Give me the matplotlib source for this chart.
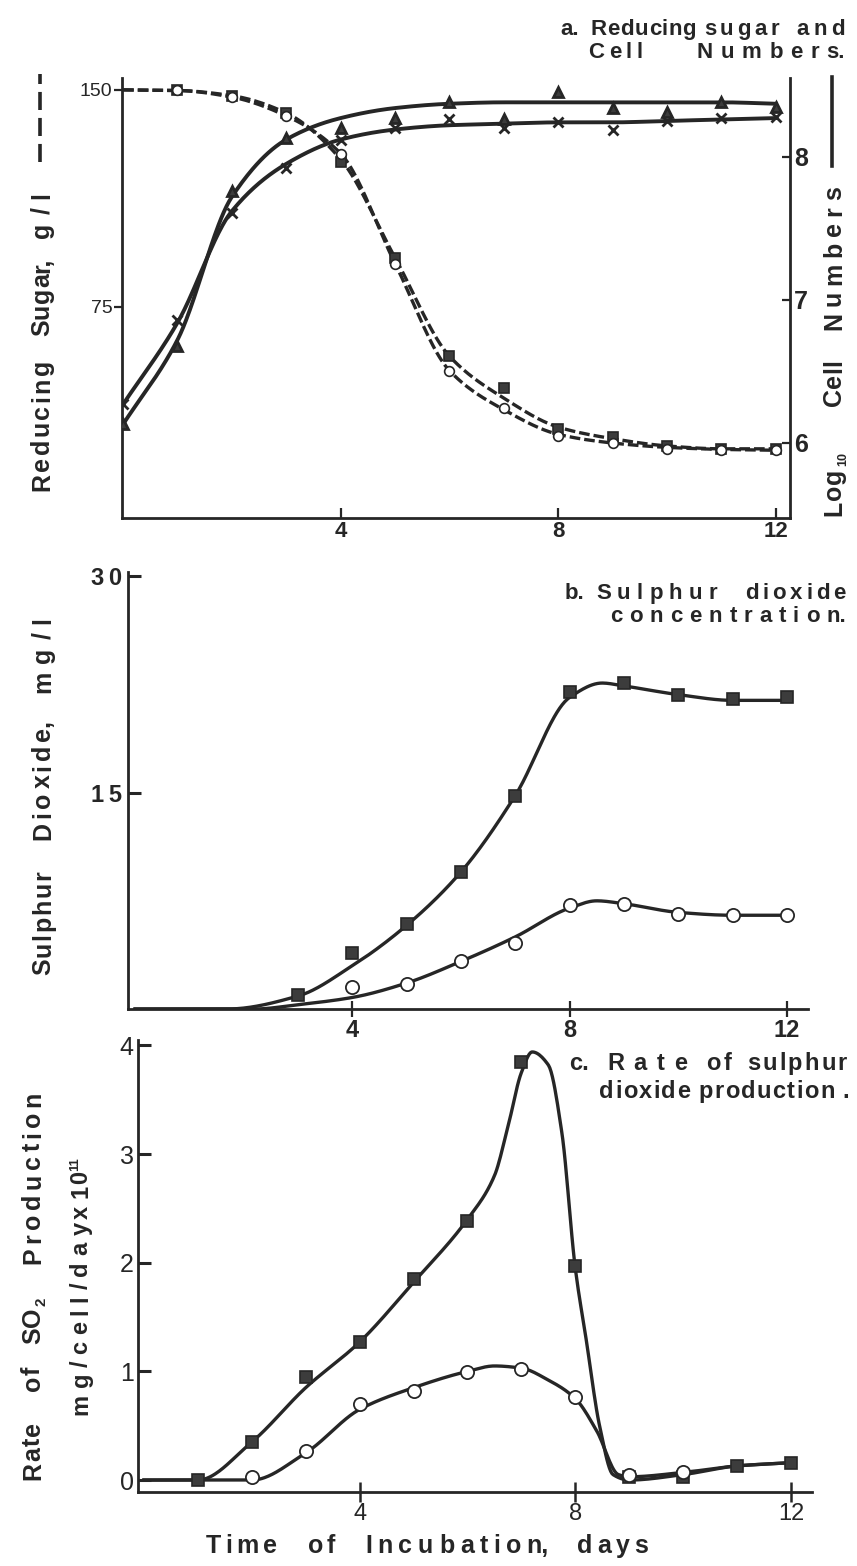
import numpy as np
import matplotlib
matplotlib.use("Agg")
import matplotlib.pyplot as plt
from matplotlib.lines import Line2D

# ---------------- data ----------------
days = list(range(13))

# panel a: reducing sugar (g/l) markers and the dashed hand-drawn curves
sugar_sq = [150, 150, 148, 142, 125, 92, 58, 47, 33, 30, 27, 26, 26]
sugar_circ = [150, 150, 147.5, 141, 128, 90, 53, 40, 30.5, 28, 26, 25.5, 25.5]
sugar_sq_curve = [150, 149.8, 148, 142, 126, 92, 58, 43.5, 33.5, 29.5, 27, 26, 26]
sugar_circ_curve = [150, 149.8, 147.5, 141, 128, 90, 53, 39.5, 31, 28, 26.5, 25.8, 25.5]

# panel a: log10 cell numbers, markers and fitted curves
cells_tri = [6.13, 6.68, 7.76, 8.13, 8.2, 8.27, 8.38, 8.26, 8.45, 8.34, 8.31, 8.38, 8.35]
cells_x = [6.27, 6.86, 7.61, 7.92, 8.12, 8.2, 8.26, 8.2, 8.24, 8.19, 8.25, 8.27, 8.28]
cells_tri_curve = [6.13, 6.72, 7.72, 8.12, 8.27, 8.34, 8.37, 8.38, 8.38, 8.38, 8.38, 8.38, 8.37]
cells_x_curve = [6.27, 6.84, 7.62, 7.95, 8.12, 8.19, 8.22, 8.23, 8.24, 8.24, 8.25, 8.26, 8.27]

# panel b: sulphur dioxide (mg/l)
so2_sq_days = [3, 4, 5, 6, 7, 8, 9, 10, 11, 12]
so2_sq = [1.0, 3.9, 5.9, 9.5, 14.8, 22.0, 22.6, 21.8, 21.5, 21.6]
so2_circ_days = [4, 5, 6, 7, 8, 9, 10, 11, 12]
so2_circ = [1.5, 1.7, 3.35, 4.6, 7.2, 7.3, 6.6, 6.5, 6.5]
so2_sq_curve_days = [0, 1.7, 3, 4, 5, 6, 7, 8, 8.6, 9, 10, 11, 12]
so2_sq_curve = [0, 0, 0.9, 3.0, 5.8, 9.5, 14.8, 21.6, 22.6, 22.4, 21.8, 21.4, 21.4]
so2_circ_curve_days = [0, 2.2, 3, 4, 5, 6, 7, 8, 8.5, 9, 10, 11, 12]
so2_circ_curve = [0, 0, 0.3, 0.8, 1.8, 3.3, 5.0, 7.0, 7.5, 7.3, 6.7, 6.5, 6.5]

# panel c: rate of SO2 production (mg/cell/day x 10^11)
rate_sq_days = [1, 2, 3, 4, 5, 6, 7, 8, 9, 10, 11, 12]
rate_sq = [0.0, 0.35, 0.95, 1.27, 1.85, 2.38, 3.85, 1.97, 0.03, 0.03, 0.13, 0.16]
rate_circ_days = [2, 3, 4, 5, 6, 7, 8, 9, 10]
rate_circ = [0.03, 0.27, 0.7, 0.82, 0.99, 1.02, 0.76, 0.05, 0.07]
rate_sq_curve_days = [0, 1, 2, 3, 4, 5, 6, 6.5, 6.75, 7, 7.2, 7.5, 7.75, 8, 8.2, 8.45, 8.7, 9, 10, 11, 12]
rate_sq_curve = [0, 0, 0.35, 0.85, 1.27, 1.82, 2.4, 2.8, 3.25, 3.75, 3.94, 3.82, 3.2, 1.95, 1.3, 0.5, 0.05, 0.0, 0.05, 0.13, 0.16]
rate_circ_curve_days = [0, 2, 3, 4, 5, 6, 6.5, 7, 7.5, 8, 8.4, 8.8, 9, 10, 11, 12]
rate_circ_curve = [0, 0, 0.25, 0.65, 0.85, 1.0, 1.05, 1.03, 0.92, 0.75, 0.45, 0.05, 0.03, 0.07, 0.13, 0.16]

# ---------------- helpers ----------------
def smooth(x, y, n=500):
    """monotone cubic (PCHIP) rendering of a hand-drawn curve through anchors"""
    x = np.asarray(x, float); y = np.asarray(y, float)
    h = np.diff(x); d = np.diff(y) / h
    m = np.zeros_like(y)
    for k in range(1, len(x) - 1):
        if d[k - 1] * d[k] > 0:
            w1 = 2 * h[k] + h[k - 1]; w2 = h[k] + 2 * h[k - 1]
            m[k] = (w1 + w2) / (w1 / d[k - 1] + w2 / d[k])
    m[0] = d[0]; m[-1] = d[-1]
    xn = np.linspace(x[0], x[-1], n)
    i = np.clip(np.searchsorted(x, xn) - 1, 0, len(h) - 1)
    t = (xn - x[i]) / h[i]
    h00 = 2 * t**3 - 3 * t**2 + 1; h10 = t**3 - 2 * t**2 + t
    h01 = -2 * t**3 + 3 * t**2; h11 = t**3 - t**2
    yn = h00 * y[i] + h10 * h[i] * m[i] + h01 * y[i + 1] + h11 * h[i] * m[i + 1]
    return xn, yn

W, H = 857, 1566
def fx(p): return p / W
def fy(p): return 1 - p / H
def rect(l, t, r, b): return [fx(l), fy(b), fx(r) - fx(l), (b - t) / H]

INK = "#262626"
FILL = "#3c3c3c"
FAM = ["Liberation Sans Narrow", "Liberation Sans", "DejaVu Sans"]
plt.rcParams["font.family"] = FAM
plt.rcParams["text.color"] = INK
plt.rcParams["axes.edgecolor"] = INK
plt.rcParams["xtick.color"] = INK
plt.rcParams["ytick.color"] = INK

fig = plt.figure(figsize=(W / 100, H / 100), dpi=100)
fig.patch.set_facecolor("white")
renderer = fig.canvas.get_renderer()


def split_units(word):
    units = []
    for ch in word:
        if ch in ".," and units:
            units[-1] += ch
        else:
            units.append(ch)
    return units


def tracked(words, size, pos, vertical=False):
    """Letter-spaced text: each word (units, start_px, end_px) is stretched over its span.
    A unit may be (text, scale, shift) for a sub/superscript (shift in px, + = up in text frame).
    horizontal: pos = baseline y (px from top); vertical: pos = column centre x (px)."""
    for units, a, b in words:
        if isinstance(units, str):
            units = split_units(units)
        items = []
        for u in units:
            if isinstance(u, tuple):
                txt, sc, sh = u
            else:
                txt, sc, sh = u, 1.0, 0.0
            t = fig.text(0, 0, txt, fontsize=size * sc, fontweight="bold",
                         rotation=90 if vertical else 0, rotation_mode="anchor",
                         ha="left", va="baseline")
            e = t.get_window_extent(renderer)
            items.append((t, e.height if vertical else e.width, sh))
        n = len(items)
        span = abs(b - a)
        tot = sum(w for _, w, _ in items)
        if n > 1:
            tr = max((span - tot) / (n - 1), 0.5); cur = 0.0
        else:
            tr = 0.0; cur = (span - tot) / 2
        for t, w, sh in items:
            if vertical:
                t.set_position((fx(pos + size / 2.0 - sh), fy(a - cur)))
            else:
                t.set_position((fx(a + cur), fy(pos - sh)))
            cur += w + tr


LW = 2.4

def style_axes(ax, spines):
    for s in ["left", "right", "top", "bottom"]:
        ax.spines[s].set_visible(s in spines)
        ax.spines[s].set_linewidth(2.0)
    ax.set_facecolor("none")

# ---------------- panel a ----------------
axa = fig.add_axes(rect(122, 78, 790, 518))
axa2 = axa.twinx()
style_axes(axa, ["left", "bottom"])
style_axes(axa2, ["right"])
axa.set_xlim(-0.02, 12.26)
axa.set_ylim(2.1, 154.1)
axa2.set_ylim(5.475, 8.55)

for curve, vals, mk, mfc in [(sugar_sq_curve, sugar_sq, "s", FILL), (sugar_circ_curve, sugar_circ, "o", "white")]:
    xs, ys = smooth(days, curve)
    axa.plot(xs, ys, color=INK, lw=2.4, ls=(0, (3.2, 1.2)), zorder=3)
    axa.plot(days[1:], vals[1:], ls="none", marker=mk, ms=7, mfc=mfc, mec=INK, mew=1.2, zorder=4)

for curve, vals, mk in [(cells_tri_curve, cells_tri, "^"), (cells_x_curve, cells_x, "x")]:
    xs, ys = smooth(days, curve)
    axa2.plot(xs, ys, color=INK, lw=2.8, zorder=3)
    axa2.plot(days, vals, ls="none", marker=mk, ms=6.5, mfc=FILL, mec=INK, mew=2.0, zorder=4)

axa.set_xticks([4, 8, 12])
axa.set_xticklabels(["4", "8", "12"], fontsize=16, fontweight="bold")
axa.tick_params(axis="x", direction="in", length=7, width=1.6, pad=2)
axa.set_yticks([75, 150])
axa.set_yticklabels(["75", "150"], fontsize=14)
axa.tick_params(axis="y", direction="out", length=6, width=1.6, pad=1)
axa2.set_yticks([6, 7, 8])
axa2.set_yticklabels(["6", "7", "8"], fontsize=18, fontweight="bold")
axa2.tick_params(axis="y", direction="in", length=6, width=1.6, pad=3)

tracked([("a.", 561, 578), ("Reducing", 591, 693), ("sugar", 704, 779), ("and", 796, 845)], 16, 35)
tracked([("Cell", 588, 643), ("Numbers.", 697, 845)], 16, 58)
tracked([("Reducing", 491, 360), ("Sugar,", 336, 261), ("g/l", 238, 192)], 18, 40, vertical=True)
fig.add_artist(Line2D([fx(40), fx(40)], [fy(162), fy(74)], color=INK, lw=2.6,
                      ls=(0, (5, 2.2)), transform=fig.transFigure))
tracked([("Log", 516, 470), ([("10", 0.5, -5)], 465, 452), ("Cell", 406, 360), ("Numbers", 330, 186)],
        18, 832, vertical=True)
fig.add_artist(Line2D([fx(832), fx(832)], [fy(166), fy(77)], color=INK, lw=2.6,
                      transform=fig.transFigure))

# ---------------- panel b ----------------
axb = fig.add_axes(rect(128, 572, 808, 1009))
style_axes(axb, ["left", "bottom"])
axb.set_xlim(-0.13, 12.39)
axb.set_ylim(0, 30.3)
xs, ys = smooth(so2_sq_curve_days, so2_sq_curve)
axb.plot(xs, ys, color=INK, lw=LW, zorder=3)
xs, ys = smooth(so2_circ_curve_days, so2_circ_curve)
axb.plot(xs, ys, color=INK, lw=LW, zorder=3)
axb.plot(so2_sq_days, so2_sq, ls="none", marker="s", ms=8.5, mfc=FILL, mec=INK, mew=1.2, zorder=4)
axb.plot(so2_circ_days, so2_circ, ls="none", marker="o", ms=9.5, mfc="white", mec=INK, mew=1.3, zorder=4)
axb.set_xticks([4, 8, 12])
axb.set_xticklabels(["4", "8", "12"], fontsize=17, fontweight="bold")
axb.tick_params(axis="x", direction="inout", length=12, width=1.6, pad=1)
axb.set_yticks([15, 30])
axb.set_yticklabels(["1\u20095", "3\u20090"], fontsize=17, fontweight="bold")
axb.tick_params(axis="y", direction="in", length=9, width=2.2, pad=4)

tracked([("b.", 560, 589), ("Sulphur", 596, 717), ("dioxide", 745, 846)], 16, 599)
tracked([("concentration.", 610, 846)], 16, 622)
tracked([("Sulphur", 975, 870), ("Dioxide,", 840, 720), ("mg/l", 693, 617)], 18, 41, vertical=True)

# ---------------- panel c ----------------
axc = fig.add_axes(rect(138, 1040, 812, 1492))
style_axes(axc, ["left", "bottom"])
axc.set_xlim(-0.11, 12.39)
axc.set_ylim(-0.11, 4.05)
xs, ys = smooth(rate_sq_curve_days, rate_sq_curve)
axc.plot(xs, ys, color=INK, lw=LW, zorder=3)
xs, ys = smooth(rate_circ_curve_days, rate_circ_curve)
axc.plot(xs, ys, color=INK, lw=LW, zorder=3)
axc.plot(rate_sq_days, rate_sq, ls="none", marker="s", ms=8, mfc=FILL, mec=INK, mew=1.2, zorder=4)
axc.plot(rate_circ_days, rate_circ, ls="none", marker="o", ms=9.5, mfc="white", mec=INK, mew=1.3, zorder=4)
axc.set_xticks([4, 8, 12])
axc.set_xticklabels(["4", "8", "12"], fontsize=17)
axc.tick_params(axis="x", direction="inout", length=14, width=1.8, pad=1)
axc.set_yticks([0, 1, 2, 3, 4])
axc.set_yticklabels(["0", "1", "2", "3", "4"], fontsize=18)
axc.tick_params(axis="y", direction="in", length=9, width=2.2, pad=3)

tracked([("c.", 569, 589), ("Rate", 607, 687), ("of", 706, 731), ("sulphur", 747, 847)], 17, 1070)
tracked([("dioxide", 599, 690), ("production", 698, 835), (".", 843, 849)], 17, 1098)
tracked([("Rate", 1480, 1422), ("of", 1391, 1370), (["S", "O", ("2", 0.6, -5)], 1344, 1298),
         ("Production", 1264, 1092)], 18, 31, vertical=True)
tracked([("mg/cell/day", 1415, 1222), ("x", 1217, 1207), (["1", "0", ("11", 0.55, 9)], 1198, 1162)],
        17, 79, vertical=True)
tracked([("Time", 206, 277), ("of", 308, 335), ("Incubation,", 365, 549), ("days", 577, 648)], 18, 1553)

fig.savefig("out.png", dpi=100, facecolor="white")
